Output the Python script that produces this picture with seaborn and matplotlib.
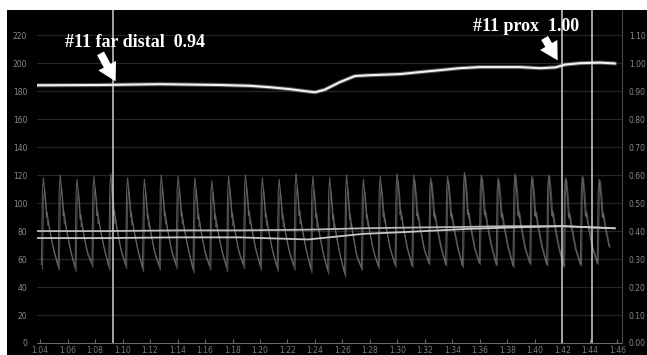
import numpy as np
import pandas as pd
import matplotlib
matplotlib.use("Agg")
import matplotlib.pyplot as plt
from matplotlib.patches import Rectangle
import seaborn as sns

# ---------------- data ----------------
# FFR (Pd/Pa) trace: time [s] and value
ffr_t = [-0.15, 4.4, 8.7, 13.1, 15.3, 16.7, 18.2, 19.3, 20.0, 20.7, 21.8, 22.9, 24.0,
         26.2, 27.6, 29.1, 30.5, 32.0, 34.9, 36.4, 37.5, 38.2, 39.3, 40.7, 41.8]
ffr_v = [0.921, 0.922, 0.925, 0.922, 0.919, 0.914, 0.907, 0.900, 0.896, 0.905, 0.932,
         0.954, 0.957, 0.961, 0.968, 0.975, 0.982, 0.986, 0.986, 0.982, 0.985, 0.995,
         1.000, 1.002, 0.999]

# mean pressures [mmHg]
mean_t = [-0.15, 5.0, 10.0, 14.5, 19.5, 21.5, 23.5, 27.0, 31.0, 34.0, 38.0, 41.8]
pa_mean = [80.0, 80.0, 80.5, 80.5, 81.0, 81.5, 82.0, 82.5, 83.0, 83.5, 83.5, 82.0]
pd_mean = [75.0, 75.0, 75.5, 75.5, 74.0, 76.0, 78.0, 79.5, 81.5, 82.5, 83.5, 82.0]

# per-beat systolic / diastolic pressures [mmHg]
pa_sys = [118, 120, 117, 119, 121, 118, 117, 120, 119, 118, 116, 119, 120, 118, 117, 121, 119,
          118, 120, 117, 119, 121, 120, 118, 119, 122, 120, 118, 121, 119, 120, 118, 119, 117]
pa_dia = [56, 55, 54, 57, 55, 56, 54, 55, 56, 53, 55, 54, 56, 55, 54, 55, 53,
          52, 50, 54, 55, 56, 55, 57, 56, 55, 57, 56, 55, 57, 56, 55, 56, 57]
pd_sys = [110, 112, 109, 111, 113, 110, 109, 112, 111, 110, 108, 111, 112, 110, 109, 112, 110,
          109, 111, 110, 113, 116, 116, 115, 116, 119, 118, 116, 119, 118, 119, 117, 118, 116]
pd_dia = [53, 52, 51, 54, 52, 53, 51, 52, 53, 50, 52, 51, 53, 52, 51, 52, 50,
          49, 47, 52, 53, 54, 54, 56, 55, 54, 56, 55, 54, 56, 55, 54, 55, 56]
beat_period = 1.225          # s
beat_start = 0.10            # s
pd_delay = 0.08              # s
# one-beat shape (phase, normalised level)
beat_phase = [0.0, 0.06, 0.12, 0.22, 0.30, 0.34, 0.45, 0.70]
beat_shape = [0.0, 0.85, 1.0, 0.80, 0.55, 0.60, 0.45, 0.20]

# axis ticks / markers
y_ticks = [0, 20, 40, 60, 80, 100, 120, 140, 160, 180, 200, 220]
y_labels = ["0", "20", "40", "60", "80", "100", "120", "140", "160", "180", "200", "220"]
r_ticks = [0.0, 0.1, 0.2, 0.3, 0.4, 0.5, 0.6, 0.7, 0.8, 0.9, 1.0, 1.1]
r_labels = ["0.00", "0.10", "0.20", "0.30", "0.40", "0.50", "0.60", "0.70", "0.80",
            "0.90", "1.00", "1.10"]
x_ticks = list(range(0, 43, 2))
x_labels = ["1:%02d" % (4 + 2 * i) if 4 + 2 * i < 60 else "2:%02d" % (4 + 2 * i - 60)
            for i in range(len(x_ticks))]
marker_t = [5.3, 38.0, 40.15]

texts = ["#11 far distal  0.94", "#11 prox  1.00"]
text_pos = [(1.8, 215), (31.5, 226)]
arrow_tail = [(4.4, 207), (36.7, 218)]
arrow_head = [(5.5, 187), (37.65, 202)]

# ---------------- build waveform table ----------------
def waveform(sys_v, dia_v, offset):
    tt, vv = [], []
    for i, (s, d) in enumerate(zip(sys_v, dia_v)):
        t0 = beat_start + offset + i * beat_period
        for ph, sh in zip(beat_phase, beat_shape):
            tt.append(t0 + ph * beat_period)
            vv.append(d + sh * (s - d))
    return pd.DataFrame({"t": tt, "p": vv})

pa_df = waveform(pa_sys, pa_dia, 0.0)
pd_df = waveform(pd_sys, pd_dia, pd_delay)
mean_df = pd.DataFrame({"t": mean_t, "pa": pa_mean, "pd": pd_mean})
ffr_df = pd.DataFrame({"t": ffr_t, "ffr": ffr_v})

# ---------------- figure ----------------
W, H = 647, 355
fig = plt.figure(figsize=(W / 100, H / 100), dpi=100, facecolor="white")
fig.patches.append(Rectangle((7 / W, 0), 640 / W, 345 / H, transform=fig.transFigure,
                             facecolor="black", edgecolor="none", zorder=-10))

ax = fig.add_axes([37 / W, 12 / H, 585 / W, 333 / H])
ax.set_facecolor("none")
ax.set_xlim(-0.22, 42.33)
ax.set_ylim(0, 238)

for y in y_ticks[1:]:
    ax.axhline(y, color="#262626", lw=0.9, zorder=1)

sns.lineplot(data=pa_df, x="t", y="p", ax=ax, color="#808080", lw=0.8, alpha=0.7,
             sort=False, estimator=None, zorder=2)
sns.lineplot(data=pd_df, x="t", y="p", ax=ax, color="#707070", lw=0.8, alpha=0.65,
             sort=False, estimator=None, zorder=2)
sns.lineplot(data=mean_df, x="t", y="pa", ax=ax, color="#b8b8b8", lw=1.3, zorder=3)
sns.lineplot(data=mean_df, x="t", y="pd", ax=ax, color="#c8c8c8", lw=1.3, zorder=3)

ax2 = ax.twinx()
ax2.set_ylim(0, 238 / 200)
sns.lineplot(data=ffr_df, x="t", y="ffr", ax=ax2, color="#aaaaaa", lw=3.0, alpha=0.45, zorder=4)
sns.lineplot(data=ffr_df, x="t", y="ffr", ax=ax2, color="#f2f2f2", lw=1.5, zorder=5)

for mt in marker_t:
    ax.axvline(mt, color="#cfcfcf", lw=1.1, zorder=6)

for txt, (tx, ty) in zip(texts, text_pos):
    ax.text(tx, ty, txt, color="white", fontsize=13, fontweight="bold",
            family="Liberation Serif", va="center", ha="left", zorder=8)
for (x0, y0), (x1, y1) in zip(arrow_tail, arrow_head):
    ax.annotate("", xy=(x1, y1), xytext=(x0, y0),
                arrowprops=dict(arrowstyle="simple,head_length=0.8,head_width=0.9,tail_width=0.35",
                                color="white", lw=0, mutation_scale=16,
                                shrinkA=0, shrinkB=0), zorder=8)

# axes styling
for a in (ax, ax2):
    for s in a.spines.values():
        s.set_visible(False)
ax.spines["bottom"].set_visible(True)
ax.spines["bottom"].set_color("#6a6a6a")
ax2.spines["right"].set_visible(True)
ax2.spines["right"].set_color("#4a4a4a")

ax.set_yticks(y_ticks)
ax.set_yticklabels(y_labels)
ax.tick_params(axis="y", length=0, pad=7, labelsize=5.5, labelcolor="#8a8a8a")
ax.set_xticks(x_ticks)
ax.set_xticklabels(x_labels)
ax.tick_params(axis="x", direction="in", length=3, color="#6a6a6a", pad=2,
               labelsize=5.5, labelcolor="#7a7a7a")
ax2.set_yticks(r_ticks)
ax2.set_yticklabels(r_labels)
ax2.tick_params(axis="y", length=0, pad=5, labelsize=5.5, labelcolor="#8a8a8a")
ax.set_xlabel("")
ax.set_ylabel("")
ax2.set_ylabel("")

fig.savefig("out.png", dpi=100, facecolor="white")
